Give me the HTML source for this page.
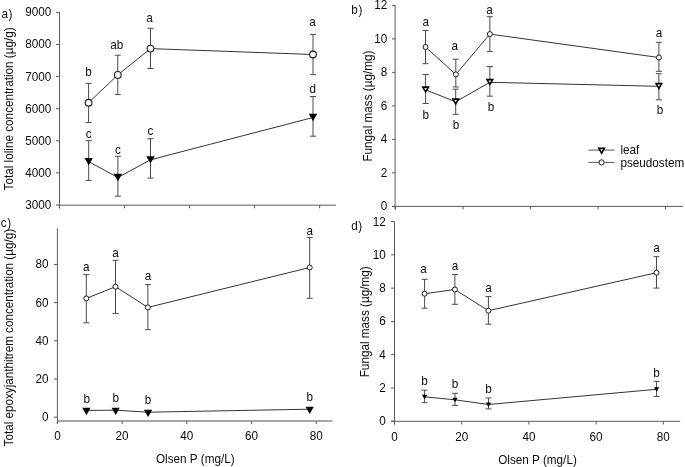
<!DOCTYPE html>
<html><head><meta charset="utf-8"><style>
html,body{margin:0;padding:0;background:#fff;width:685px;height:467px;overflow:hidden}
svg{display:block;will-change:transform}
text{font-family:"Liberation Sans", sans-serif;fill:#0c0c0c}
</style></head><body>
<svg width="685" height="467" viewBox="0 0 685 467">
<line x1="59.50" y1="12.00" x2="59.50" y2="208.30" stroke="#5a5a5a" stroke-width="1"/>
<line x1="59.00" y1="205.20" x2="336.00" y2="205.20" stroke="#5a5a5a" stroke-width="1"/>
<line x1="56.00" y1="205.00" x2="59.50" y2="205.00" stroke="#5a5a5a" stroke-width="1"/>
<text transform="translate(51.30,208.90) scale(0.977,1)" text-anchor="end" font-size="12">3000</text>
<line x1="56.00" y1="172.90" x2="59.50" y2="172.90" stroke="#5a5a5a" stroke-width="1"/>
<text transform="translate(51.30,176.80) scale(0.977,1)" text-anchor="end" font-size="12">4000</text>
<line x1="56.00" y1="140.80" x2="59.50" y2="140.80" stroke="#5a5a5a" stroke-width="1"/>
<text transform="translate(51.30,144.70) scale(0.977,1)" text-anchor="end" font-size="12">5000</text>
<line x1="56.00" y1="108.70" x2="59.50" y2="108.70" stroke="#5a5a5a" stroke-width="1"/>
<text transform="translate(51.30,112.60) scale(0.977,1)" text-anchor="end" font-size="12">6000</text>
<line x1="56.00" y1="76.60" x2="59.50" y2="76.60" stroke="#5a5a5a" stroke-width="1"/>
<text transform="translate(51.30,80.50) scale(0.977,1)" text-anchor="end" font-size="12">7000</text>
<line x1="56.00" y1="44.50" x2="59.50" y2="44.50" stroke="#5a5a5a" stroke-width="1"/>
<text transform="translate(51.30,48.40) scale(0.977,1)" text-anchor="end" font-size="12">8000</text>
<line x1="56.00" y1="12.40" x2="59.50" y2="12.40" stroke="#5a5a5a" stroke-width="1"/>
<text transform="translate(51.30,16.30) scale(0.977,1)" text-anchor="end" font-size="12">9000</text>
<line x1="59.40" y1="205.20" x2="59.40" y2="208.30" stroke="#5a5a5a" stroke-width="1"/>
<line x1="124.46" y1="205.20" x2="124.46" y2="208.30" stroke="#5a5a5a" stroke-width="1"/>
<line x1="189.52" y1="205.20" x2="189.52" y2="208.30" stroke="#5a5a5a" stroke-width="1"/>
<line x1="254.58" y1="205.20" x2="254.58" y2="208.30" stroke="#5a5a5a" stroke-width="1"/>
<line x1="319.64" y1="205.20" x2="319.64" y2="208.30" stroke="#5a5a5a" stroke-width="1"/>
<text transform="translate(1.50,17.60) scale(0.977,1)" text-anchor="start" font-size="12" letter-spacing="0.6">a)</text>
<text transform="translate(12.8,190.4) rotate(-90) scale(0.977,1)" text-anchor="start" font-size="12">Total loline concentration (µg/g)</text>
<line x1="88.60" y1="83.40" x2="88.60" y2="122.60" stroke="#4a4a4a" stroke-width="1"/>
<line x1="85.60" y1="83.40" x2="91.60" y2="83.40" stroke="#4a4a4a" stroke-width="1"/>
<line x1="85.60" y1="122.60" x2="91.60" y2="122.60" stroke="#4a4a4a" stroke-width="1"/>
<line x1="117.80" y1="55.20" x2="117.80" y2="94.60" stroke="#4a4a4a" stroke-width="1"/>
<line x1="114.80" y1="55.20" x2="120.80" y2="55.20" stroke="#4a4a4a" stroke-width="1"/>
<line x1="114.80" y1="94.60" x2="120.80" y2="94.60" stroke="#4a4a4a" stroke-width="1"/>
<line x1="150.50" y1="28.30" x2="150.50" y2="68.50" stroke="#4a4a4a" stroke-width="1"/>
<line x1="147.50" y1="28.30" x2="153.50" y2="28.30" stroke="#4a4a4a" stroke-width="1"/>
<line x1="147.50" y1="68.50" x2="153.50" y2="68.50" stroke="#4a4a4a" stroke-width="1"/>
<line x1="313.00" y1="34.40" x2="313.00" y2="74.70" stroke="#4a4a4a" stroke-width="1"/>
<line x1="310.00" y1="34.40" x2="316.00" y2="34.40" stroke="#4a4a4a" stroke-width="1"/>
<line x1="310.00" y1="74.70" x2="316.00" y2="74.70" stroke="#4a4a4a" stroke-width="1"/>
<line x1="88.70" y1="140.70" x2="88.70" y2="180.40" stroke="#4a4a4a" stroke-width="1"/>
<line x1="85.70" y1="140.70" x2="91.70" y2="140.70" stroke="#4a4a4a" stroke-width="1"/>
<line x1="85.70" y1="180.40" x2="91.70" y2="180.40" stroke="#4a4a4a" stroke-width="1"/>
<line x1="117.90" y1="156.30" x2="117.90" y2="196.20" stroke="#4a4a4a" stroke-width="1"/>
<line x1="114.90" y1="156.30" x2="120.90" y2="156.30" stroke="#4a4a4a" stroke-width="1"/>
<line x1="114.90" y1="196.20" x2="120.90" y2="196.20" stroke="#4a4a4a" stroke-width="1"/>
<line x1="150.50" y1="138.70" x2="150.50" y2="178.10" stroke="#4a4a4a" stroke-width="1"/>
<line x1="147.50" y1="138.70" x2="153.50" y2="138.70" stroke="#4a4a4a" stroke-width="1"/>
<line x1="147.50" y1="178.10" x2="153.50" y2="178.10" stroke="#4a4a4a" stroke-width="1"/>
<line x1="313.00" y1="96.50" x2="313.00" y2="136.20" stroke="#4a4a4a" stroke-width="1"/>
<line x1="310.00" y1="96.50" x2="316.00" y2="96.50" stroke="#4a4a4a" stroke-width="1"/>
<line x1="310.00" y1="136.20" x2="316.00" y2="136.20" stroke="#4a4a4a" stroke-width="1"/>
<polyline points="88.60,102.70 117.80,74.90 150.50,48.60 313.00,54.50" fill="none" stroke="#333" stroke-width="1"/>
<polyline points="88.70,161.60 117.90,177.50 150.50,159.80 313.00,117.50" fill="none" stroke="#333" stroke-width="1"/>
<circle cx="88.60" cy="102.70" r="3.35" fill="#fff" stroke="#1a1a1a" stroke-width="1.1"/>
<circle cx="117.80" cy="74.90" r="3.35" fill="#fff" stroke="#1a1a1a" stroke-width="1.1"/>
<circle cx="150.50" cy="48.60" r="3.35" fill="#fff" stroke="#1a1a1a" stroke-width="1.1"/>
<circle cx="313.00" cy="54.50" r="3.35" fill="#fff" stroke="#1a1a1a" stroke-width="1.1"/>
<polygon points="84.50,157.95 92.90,157.95 88.70,165.25" fill="#000"/>
<polygon points="113.70,173.85 122.10,173.85 117.90,181.15" fill="#000"/>
<polygon points="146.30,156.15 154.70,156.15 150.50,163.45" fill="#000"/>
<polygon points="308.80,113.85 317.20,113.85 313.00,121.15" fill="#000"/>
<text transform="translate(88.50,75.80) scale(0.977,1)" text-anchor="middle" font-size="12">b</text>
<text transform="translate(116.70,49.20) scale(0.977,1)" text-anchor="middle" font-size="12">ab</text>
<text transform="translate(149.50,22.30) scale(0.977,1)" text-anchor="middle" font-size="12">a</text>
<text transform="translate(312.50,25.70) scale(0.977,1)" text-anchor="middle" font-size="12">a</text>
<text transform="translate(88.70,137.50) scale(0.977,1)" text-anchor="middle" font-size="12">c</text>
<text transform="translate(117.90,153.60) scale(0.977,1)" text-anchor="middle" font-size="12">c</text>
<text transform="translate(150.50,135.40) scale(0.977,1)" text-anchor="middle" font-size="12">c</text>
<text transform="translate(312.70,92.50) scale(0.977,1)" text-anchor="middle" font-size="12">d</text>
<line x1="395.10" y1="5.00" x2="395.10" y2="209.50" stroke="#5a5a5a" stroke-width="1"/>
<line x1="392.00" y1="206.40" x2="683.00" y2="206.40" stroke="#5a5a5a" stroke-width="1"/>
<line x1="392.00" y1="206.40" x2="395.10" y2="206.40" stroke="#5a5a5a" stroke-width="1"/>
<text transform="translate(387.20,210.30) scale(0.977,1)" text-anchor="end" font-size="12">0</text>
<line x1="392.00" y1="172.90" x2="395.10" y2="172.90" stroke="#5a5a5a" stroke-width="1"/>
<text transform="translate(387.20,176.80) scale(0.977,1)" text-anchor="end" font-size="12">2</text>
<line x1="392.00" y1="139.40" x2="395.10" y2="139.40" stroke="#5a5a5a" stroke-width="1"/>
<text transform="translate(387.20,143.30) scale(0.977,1)" text-anchor="end" font-size="12">4</text>
<line x1="392.00" y1="105.90" x2="395.10" y2="105.90" stroke="#5a5a5a" stroke-width="1"/>
<text transform="translate(387.20,109.80) scale(0.977,1)" text-anchor="end" font-size="12">6</text>
<line x1="392.00" y1="72.40" x2="395.10" y2="72.40" stroke="#5a5a5a" stroke-width="1"/>
<text transform="translate(387.20,76.30) scale(0.977,1)" text-anchor="end" font-size="12">8</text>
<line x1="392.00" y1="38.90" x2="395.10" y2="38.90" stroke="#5a5a5a" stroke-width="1"/>
<text transform="translate(387.20,42.80) scale(0.977,1)" text-anchor="end" font-size="12">10</text>
<line x1="392.00" y1="5.40" x2="395.10" y2="5.40" stroke="#5a5a5a" stroke-width="1"/>
<text transform="translate(387.20,9.30) scale(0.977,1)" text-anchor="end" font-size="12">12</text>
<line x1="395.50" y1="206.40" x2="395.50" y2="209.50" stroke="#5a5a5a" stroke-width="1"/>
<line x1="463.02" y1="206.40" x2="463.02" y2="209.50" stroke="#5a5a5a" stroke-width="1"/>
<line x1="530.54" y1="206.40" x2="530.54" y2="209.50" stroke="#5a5a5a" stroke-width="1"/>
<line x1="598.06" y1="206.40" x2="598.06" y2="209.50" stroke="#5a5a5a" stroke-width="1"/>
<line x1="665.58" y1="206.40" x2="665.58" y2="209.50" stroke="#5a5a5a" stroke-width="1"/>
<text transform="translate(351.30,14.00) scale(0.977,1)" text-anchor="start" font-size="12" letter-spacing="0.6">b)</text>
<text transform="translate(372.4,161.6) rotate(-90) scale(0.977,1)" text-anchor="start" font-size="12">Fungal mass (µg/mg)</text>
<line x1="425.50" y1="30.50" x2="425.50" y2="63.70" stroke="#4a4a4a" stroke-width="1"/>
<line x1="422.50" y1="30.50" x2="428.50" y2="30.50" stroke="#4a4a4a" stroke-width="1"/>
<line x1="422.50" y1="63.70" x2="428.50" y2="63.70" stroke="#4a4a4a" stroke-width="1"/>
<line x1="455.80" y1="59.20" x2="455.80" y2="87.00" stroke="#4a4a4a" stroke-width="1"/>
<line x1="452.80" y1="59.20" x2="458.80" y2="59.20" stroke="#4a4a4a" stroke-width="1"/>
<line x1="452.80" y1="87.00" x2="458.80" y2="87.00" stroke="#4a4a4a" stroke-width="1"/>
<line x1="489.85" y1="16.70" x2="489.85" y2="51.40" stroke="#4a4a4a" stroke-width="1"/>
<line x1="486.85" y1="16.70" x2="492.85" y2="16.70" stroke="#4a4a4a" stroke-width="1"/>
<line x1="486.85" y1="51.40" x2="492.85" y2="51.40" stroke="#4a4a4a" stroke-width="1"/>
<line x1="658.90" y1="42.30" x2="658.90" y2="71.30" stroke="#4a4a4a" stroke-width="1"/>
<line x1="655.90" y1="42.30" x2="661.90" y2="42.30" stroke="#4a4a4a" stroke-width="1"/>
<line x1="655.90" y1="71.30" x2="661.90" y2="71.30" stroke="#4a4a4a" stroke-width="1"/>
<line x1="425.60" y1="74.50" x2="425.60" y2="103.50" stroke="#4a4a4a" stroke-width="1"/>
<line x1="422.60" y1="74.50" x2="428.60" y2="74.50" stroke="#4a4a4a" stroke-width="1"/>
<line x1="422.60" y1="103.50" x2="428.60" y2="103.50" stroke="#4a4a4a" stroke-width="1"/>
<line x1="455.70" y1="89.20" x2="455.70" y2="114.30" stroke="#4a4a4a" stroke-width="1"/>
<line x1="452.70" y1="89.20" x2="458.70" y2="89.20" stroke="#4a4a4a" stroke-width="1"/>
<line x1="452.70" y1="114.30" x2="458.70" y2="114.30" stroke="#4a4a4a" stroke-width="1"/>
<line x1="489.85" y1="66.50" x2="489.85" y2="96.20" stroke="#4a4a4a" stroke-width="1"/>
<line x1="486.85" y1="66.50" x2="492.85" y2="66.50" stroke="#4a4a4a" stroke-width="1"/>
<line x1="486.85" y1="96.20" x2="492.85" y2="96.20" stroke="#4a4a4a" stroke-width="1"/>
<line x1="658.90" y1="73.70" x2="658.90" y2="99.80" stroke="#4a4a4a" stroke-width="1"/>
<line x1="655.90" y1="73.70" x2="661.90" y2="73.70" stroke="#4a4a4a" stroke-width="1"/>
<line x1="655.90" y1="99.80" x2="661.90" y2="99.80" stroke="#4a4a4a" stroke-width="1"/>
<polyline points="425.50,47.00 455.80,74.40 489.85,34.10 658.90,57.50" fill="none" stroke="#333" stroke-width="1"/>
<polyline points="425.60,89.80 455.70,101.80 489.85,82.30 658.90,86.30" fill="none" stroke="#333" stroke-width="1"/>
<circle cx="425.50" cy="47.00" r="2.5" fill="#fff" stroke="#1a1a1a" stroke-width="1"/>
<circle cx="455.80" cy="74.40" r="2.5" fill="#fff" stroke="#1a1a1a" stroke-width="1"/>
<circle cx="489.85" cy="34.10" r="2.5" fill="#fff" stroke="#1a1a1a" stroke-width="1"/>
<circle cx="658.90" cy="57.50" r="2.5" fill="#fff" stroke="#1a1a1a" stroke-width="1"/>
<polygon points="421.40,86.15 429.80,86.15 425.60,93.45" fill="#000"/>
<polygon points="424.25,87.95 426.95,87.95 425.60,90.15" fill="#fff"/>
<polygon points="451.50,98.15 459.90,98.15 455.70,105.45" fill="#000"/>
<polygon points="454.35,99.95 457.05,99.95 455.70,102.15" fill="#fff"/>
<polygon points="485.65,78.65 494.05,78.65 489.85,85.95" fill="#000"/>
<polygon points="488.50,80.45 491.20,80.45 489.85,82.65" fill="#fff"/>
<polygon points="654.70,82.65 663.10,82.65 658.90,89.95" fill="#000"/>
<polygon points="657.55,84.45 660.25,84.45 658.90,86.65" fill="#fff"/>
<text transform="translate(425.70,25.60) scale(0.977,1)" text-anchor="middle" font-size="12">a</text>
<text transform="translate(454.70,49.70) scale(0.977,1)" text-anchor="middle" font-size="12">a</text>
<text transform="translate(489.50,13.70) scale(0.977,1)" text-anchor="middle" font-size="12">a</text>
<text transform="translate(658.90,36.80) scale(0.977,1)" text-anchor="middle" font-size="12">a</text>
<text transform="translate(425.70,118.80) scale(0.977,1)" text-anchor="middle" font-size="12">b</text>
<text transform="translate(456.00,129.00) scale(0.977,1)" text-anchor="middle" font-size="12">b</text>
<text transform="translate(491.00,110.70) scale(0.977,1)" text-anchor="middle" font-size="12">b</text>
<text transform="translate(660.00,113.90) scale(0.977,1)" text-anchor="middle" font-size="12">b</text>
<line x1="588.50" y1="150.10" x2="614.50" y2="150.10" stroke="#555" stroke-width="1"/>
<polygon points="597.45,147.40 605.75,147.40 601.60,154.70" fill="#000"/>
<polygon points="600.25,149.20 602.95,149.20 601.60,151.40" fill="#fff"/>
<line x1="588.50" y1="162.40" x2="614.50" y2="162.40" stroke="#555" stroke-width="1"/>
<circle cx="601.60" cy="162.40" r="2.6" fill="#fff" stroke="#1a1a1a" stroke-width="1"/>
<text transform="translate(620.40,153.50) scale(0.977,1)" text-anchor="start" font-size="12">leaf</text>
<text transform="translate(620.40,166.90) scale(0.977,1)" text-anchor="start" font-size="12">pseudostem</text>
<line x1="57.40" y1="228.20" x2="57.40" y2="424.00" stroke="#5a5a5a" stroke-width="1"/>
<line x1="57.00" y1="421.00" x2="332.50" y2="421.00" stroke="#8a8a8a" stroke-width="1.6"/>
<line x1="54.00" y1="417.20" x2="57.40" y2="417.20" stroke="#5a5a5a" stroke-width="1"/>
<text transform="translate(48.60,421.10) scale(0.977,1)" text-anchor="end" font-size="12">0</text>
<line x1="54.00" y1="379.02" x2="57.40" y2="379.02" stroke="#5a5a5a" stroke-width="1"/>
<text transform="translate(48.60,382.92) scale(0.977,1)" text-anchor="end" font-size="12">20</text>
<line x1="54.00" y1="340.84" x2="57.40" y2="340.84" stroke="#5a5a5a" stroke-width="1"/>
<text transform="translate(48.60,344.74) scale(0.977,1)" text-anchor="end" font-size="12">40</text>
<line x1="54.00" y1="302.66" x2="57.40" y2="302.66" stroke="#5a5a5a" stroke-width="1"/>
<text transform="translate(48.60,306.56) scale(0.977,1)" text-anchor="end" font-size="12">60</text>
<line x1="54.00" y1="264.48" x2="57.40" y2="264.48" stroke="#5a5a5a" stroke-width="1"/>
<text transform="translate(48.60,268.38) scale(0.977,1)" text-anchor="end" font-size="12">80</text>
<line x1="57.40" y1="421.00" x2="57.40" y2="424.00" stroke="#5a5a5a" stroke-width="1"/>
<text transform="translate(57.40,440.20) scale(0.977,1)" text-anchor="middle" font-size="12">0</text>
<line x1="122.12" y1="421.00" x2="122.12" y2="424.00" stroke="#5a5a5a" stroke-width="1"/>
<text transform="translate(122.12,440.20) scale(0.977,1)" text-anchor="middle" font-size="12">20</text>
<line x1="186.84" y1="421.00" x2="186.84" y2="424.00" stroke="#5a5a5a" stroke-width="1"/>
<text transform="translate(186.84,440.20) scale(0.977,1)" text-anchor="middle" font-size="12">40</text>
<line x1="251.56" y1="421.00" x2="251.56" y2="424.00" stroke="#5a5a5a" stroke-width="1"/>
<text transform="translate(251.56,440.20) scale(0.977,1)" text-anchor="middle" font-size="12">60</text>
<line x1="316.28" y1="421.00" x2="316.28" y2="424.00" stroke="#5a5a5a" stroke-width="1"/>
<text transform="translate(316.28,440.20) scale(0.977,1)" text-anchor="middle" font-size="12">80</text>
<text transform="translate(195.30,463.30) scale(0.977,1)" text-anchor="middle" font-size="12">Olsen P (mg/L)</text>
<text transform="translate(0.80,226.90) scale(0.977,1)" text-anchor="start" font-size="12" letter-spacing="0.6">c)</text>
<text transform="translate(12.9,446.3) rotate(-90) scale(0.972,1)" text-anchor="start" font-size="12">Total epoxyjanthitrem concentration (µg/g)</text>
<line x1="86.30" y1="274.60" x2="86.30" y2="322.80" stroke="#4a4a4a" stroke-width="1"/>
<line x1="83.30" y1="274.60" x2="89.30" y2="274.60" stroke="#4a4a4a" stroke-width="1"/>
<line x1="83.30" y1="322.80" x2="89.30" y2="322.80" stroke="#4a4a4a" stroke-width="1"/>
<line x1="115.50" y1="260.30" x2="115.50" y2="313.40" stroke="#4a4a4a" stroke-width="1"/>
<line x1="112.50" y1="260.30" x2="118.50" y2="260.30" stroke="#4a4a4a" stroke-width="1"/>
<line x1="112.50" y1="313.40" x2="118.50" y2="313.40" stroke="#4a4a4a" stroke-width="1"/>
<line x1="147.90" y1="284.70" x2="147.90" y2="329.70" stroke="#4a4a4a" stroke-width="1"/>
<line x1="144.90" y1="284.70" x2="150.90" y2="284.70" stroke="#4a4a4a" stroke-width="1"/>
<line x1="144.90" y1="329.70" x2="150.90" y2="329.70" stroke="#4a4a4a" stroke-width="1"/>
<line x1="309.70" y1="237.40" x2="309.70" y2="298.30" stroke="#4a4a4a" stroke-width="1"/>
<line x1="306.70" y1="237.40" x2="312.70" y2="237.40" stroke="#4a4a4a" stroke-width="1"/>
<line x1="306.70" y1="298.30" x2="312.70" y2="298.30" stroke="#4a4a4a" stroke-width="1"/>
<polyline points="86.30,298.40 115.50,286.70 147.90,307.40 309.70,267.50" fill="none" stroke="#333" stroke-width="1"/>
<polyline points="86.40,410.40 115.70,410.20 148.10,412.20 309.70,409.20" fill="none" stroke="#333" stroke-width="1"/>
<circle cx="86.30" cy="298.40" r="2.5" fill="#fff" stroke="#1a1a1a" stroke-width="1"/>
<circle cx="115.50" cy="286.70" r="2.5" fill="#fff" stroke="#1a1a1a" stroke-width="1"/>
<circle cx="147.90" cy="307.40" r="2.5" fill="#fff" stroke="#1a1a1a" stroke-width="1"/>
<circle cx="309.70" cy="267.50" r="2.5" fill="#fff" stroke="#1a1a1a" stroke-width="1"/>
<polygon points="82.30,407.85 90.50,407.85 86.40,415.15" fill="#000"/>
<polygon points="111.60,407.65 119.80,407.65 115.70,414.95" fill="#000"/>
<polygon points="144.00,409.65 152.20,409.65 148.10,416.95" fill="#000"/>
<polygon points="305.60,406.65 313.80,406.65 309.70,413.95" fill="#000"/>
<text transform="translate(86.30,271.20) scale(0.977,1)" text-anchor="middle" font-size="12">a</text>
<text transform="translate(115.50,256.70) scale(0.977,1)" text-anchor="middle" font-size="12">a</text>
<text transform="translate(147.90,280.40) scale(0.977,1)" text-anchor="middle" font-size="12">a</text>
<text transform="translate(309.70,235.40) scale(0.977,1)" text-anchor="middle" font-size="12">a</text>
<text transform="translate(86.80,402.50) scale(0.977,1)" text-anchor="middle" font-size="12">b</text>
<text transform="translate(115.70,401.80) scale(0.977,1)" text-anchor="middle" font-size="12">b</text>
<text transform="translate(148.10,403.70) scale(0.977,1)" text-anchor="middle" font-size="12">b</text>
<text transform="translate(309.70,400.70) scale(0.977,1)" text-anchor="middle" font-size="12">b</text>
<line x1="394.50" y1="221.50" x2="394.50" y2="424.50" stroke="#5a5a5a" stroke-width="1"/>
<line x1="391.00" y1="421.30" x2="680.20" y2="421.30" stroke="#5a5a5a" stroke-width="1"/>
<line x1="391.00" y1="421.20" x2="394.50" y2="421.20" stroke="#5a5a5a" stroke-width="1"/>
<text transform="translate(385.80,425.10) scale(0.977,1)" text-anchor="end" font-size="12">0</text>
<line x1="391.00" y1="387.93" x2="394.50" y2="387.93" stroke="#5a5a5a" stroke-width="1"/>
<text transform="translate(385.80,391.83) scale(0.977,1)" text-anchor="end" font-size="12">2</text>
<line x1="391.00" y1="354.67" x2="394.50" y2="354.67" stroke="#5a5a5a" stroke-width="1"/>
<text transform="translate(385.80,358.57) scale(0.977,1)" text-anchor="end" font-size="12">4</text>
<line x1="391.00" y1="321.40" x2="394.50" y2="321.40" stroke="#5a5a5a" stroke-width="1"/>
<text transform="translate(385.80,325.30) scale(0.977,1)" text-anchor="end" font-size="12">6</text>
<line x1="391.00" y1="288.14" x2="394.50" y2="288.14" stroke="#5a5a5a" stroke-width="1"/>
<text transform="translate(385.80,292.04) scale(0.977,1)" text-anchor="end" font-size="12">8</text>
<line x1="391.00" y1="254.87" x2="394.50" y2="254.87" stroke="#5a5a5a" stroke-width="1"/>
<text transform="translate(385.80,258.77) scale(0.977,1)" text-anchor="end" font-size="12">10</text>
<line x1="391.00" y1="221.60" x2="394.50" y2="221.60" stroke="#5a5a5a" stroke-width="1"/>
<text transform="translate(385.80,225.50) scale(0.977,1)" text-anchor="end" font-size="12">12</text>
<line x1="394.50" y1="421.30" x2="394.50" y2="424.50" stroke="#5a5a5a" stroke-width="1"/>
<text transform="translate(394.50,440.80) scale(0.977,1)" text-anchor="middle" font-size="12">0</text>
<line x1="461.70" y1="421.30" x2="461.70" y2="424.50" stroke="#5a5a5a" stroke-width="1"/>
<text transform="translate(461.70,440.80) scale(0.977,1)" text-anchor="middle" font-size="12">20</text>
<line x1="528.90" y1="421.30" x2="528.90" y2="424.50" stroke="#5a5a5a" stroke-width="1"/>
<text transform="translate(528.90,440.80) scale(0.977,1)" text-anchor="middle" font-size="12">40</text>
<line x1="596.10" y1="421.30" x2="596.10" y2="424.50" stroke="#5a5a5a" stroke-width="1"/>
<text transform="translate(596.10,440.80) scale(0.977,1)" text-anchor="middle" font-size="12">60</text>
<line x1="663.30" y1="421.30" x2="663.30" y2="424.50" stroke="#5a5a5a" stroke-width="1"/>
<text transform="translate(663.30,440.80) scale(0.977,1)" text-anchor="middle" font-size="12">80</text>
<text transform="translate(537.50,463.70) scale(0.977,1)" text-anchor="middle" font-size="12">Olsen P (mg/L)</text>
<text transform="translate(351.20,229.60) scale(0.977,1)" text-anchor="start" font-size="12" letter-spacing="0.6">d)</text>
<text transform="translate(369.2,377.3) rotate(-90) scale(0.977,1)" text-anchor="start" font-size="12">Fungal mass (µg/mg)</text>
<line x1="424.60" y1="279.30" x2="424.60" y2="308.20" stroke="#4a4a4a" stroke-width="1"/>
<line x1="421.60" y1="279.30" x2="427.60" y2="279.30" stroke="#4a4a4a" stroke-width="1"/>
<line x1="421.60" y1="308.20" x2="427.60" y2="308.20" stroke="#4a4a4a" stroke-width="1"/>
<line x1="454.90" y1="274.50" x2="454.90" y2="304.30" stroke="#4a4a4a" stroke-width="1"/>
<line x1="451.90" y1="274.50" x2="457.90" y2="274.50" stroke="#4a4a4a" stroke-width="1"/>
<line x1="451.90" y1="304.30" x2="457.90" y2="304.30" stroke="#4a4a4a" stroke-width="1"/>
<line x1="488.40" y1="296.60" x2="488.40" y2="324.20" stroke="#4a4a4a" stroke-width="1"/>
<line x1="485.40" y1="296.60" x2="491.40" y2="296.60" stroke="#4a4a4a" stroke-width="1"/>
<line x1="485.40" y1="324.20" x2="491.40" y2="324.20" stroke="#4a4a4a" stroke-width="1"/>
<line x1="656.50" y1="256.70" x2="656.50" y2="288.10" stroke="#4a4a4a" stroke-width="1"/>
<line x1="653.50" y1="256.70" x2="659.50" y2="256.70" stroke="#4a4a4a" stroke-width="1"/>
<line x1="653.50" y1="288.10" x2="659.50" y2="288.10" stroke="#4a4a4a" stroke-width="1"/>
<line x1="424.60" y1="390.10" x2="424.60" y2="402.70" stroke="#4a4a4a" stroke-width="1"/>
<line x1="421.60" y1="390.10" x2="427.60" y2="390.10" stroke="#4a4a4a" stroke-width="1"/>
<line x1="421.60" y1="402.70" x2="427.60" y2="402.70" stroke="#4a4a4a" stroke-width="1"/>
<line x1="455.00" y1="393.30" x2="455.00" y2="405.40" stroke="#4a4a4a" stroke-width="1"/>
<line x1="452.00" y1="393.30" x2="458.00" y2="393.30" stroke="#4a4a4a" stroke-width="1"/>
<line x1="452.00" y1="405.40" x2="458.00" y2="405.40" stroke="#4a4a4a" stroke-width="1"/>
<line x1="488.50" y1="398.00" x2="488.50" y2="408.90" stroke="#4a4a4a" stroke-width="1"/>
<line x1="485.50" y1="398.00" x2="491.50" y2="398.00" stroke="#4a4a4a" stroke-width="1"/>
<line x1="485.50" y1="408.90" x2="491.50" y2="408.90" stroke="#4a4a4a" stroke-width="1"/>
<line x1="656.60" y1="381.30" x2="656.60" y2="396.50" stroke="#4a4a4a" stroke-width="1"/>
<line x1="653.60" y1="381.30" x2="659.60" y2="381.30" stroke="#4a4a4a" stroke-width="1"/>
<line x1="653.60" y1="396.50" x2="659.60" y2="396.50" stroke="#4a4a4a" stroke-width="1"/>
<polyline points="424.60,293.70 454.90,289.50 488.40,310.70 656.50,272.70" fill="none" stroke="#333" stroke-width="1"/>
<polyline points="424.60,396.80 455.00,399.80 488.50,404.50 656.60,389.30" fill="none" stroke="#333" stroke-width="1"/>
<circle cx="424.60" cy="293.70" r="2.5" fill="#fff" stroke="#1a1a1a" stroke-width="1"/>
<circle cx="454.90" cy="289.50" r="2.5" fill="#fff" stroke="#1a1a1a" stroke-width="1"/>
<circle cx="488.40" cy="310.70" r="2.5" fill="#fff" stroke="#1a1a1a" stroke-width="1"/>
<circle cx="656.50" cy="272.70" r="2.5" fill="#fff" stroke="#1a1a1a" stroke-width="1"/>
<polygon points="421.95,394.70 427.25,394.70 424.60,399.30" fill="#000"/>
<polygon points="452.35,397.70 457.65,397.70 455.00,402.30" fill="#000"/>
<polygon points="485.85,402.40 491.15,402.40 488.50,407.00" fill="#000"/>
<polygon points="653.95,387.20 659.25,387.20 656.60,391.80" fill="#000"/>
<text transform="translate(423.50,272.70) scale(0.977,1)" text-anchor="middle" font-size="12">a</text>
<text transform="translate(454.90,269.70) scale(0.977,1)" text-anchor="middle" font-size="12">a</text>
<text transform="translate(488.40,292.00) scale(0.977,1)" text-anchor="middle" font-size="12">a</text>
<text transform="translate(656.50,252.10) scale(0.977,1)" text-anchor="middle" font-size="12">a</text>
<text transform="translate(424.60,384.80) scale(0.977,1)" text-anchor="middle" font-size="12">b</text>
<text transform="translate(455.00,388.00) scale(0.977,1)" text-anchor="middle" font-size="12">b</text>
<text transform="translate(488.50,393.30) scale(0.977,1)" text-anchor="middle" font-size="12">b</text>
<text transform="translate(656.60,377.00) scale(0.977,1)" text-anchor="middle" font-size="12">b</text>
</svg>
</body></html>
